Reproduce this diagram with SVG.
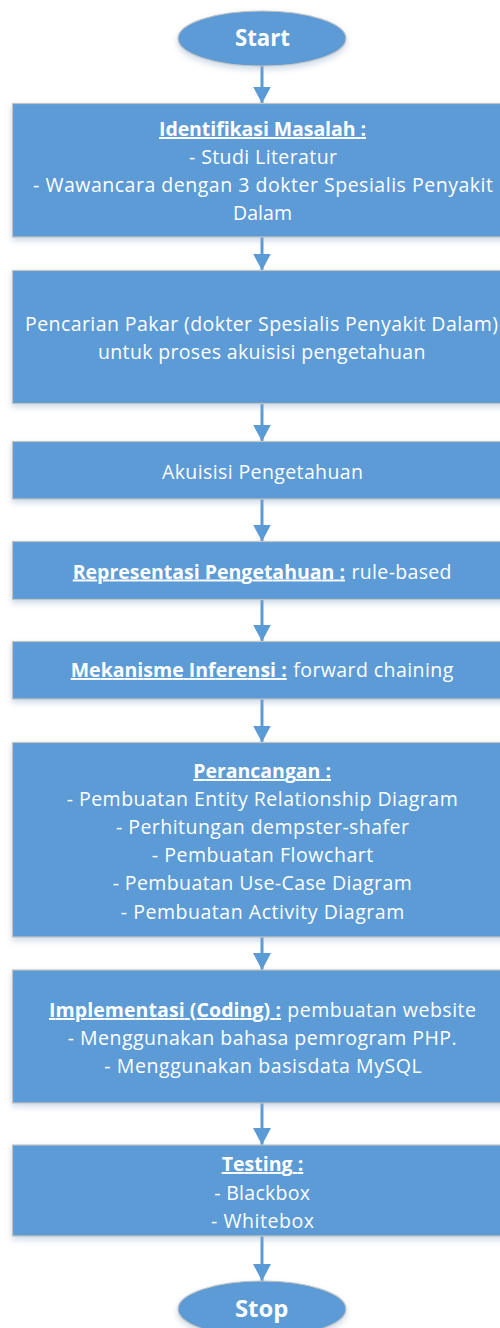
<svg xmlns="http://www.w3.org/2000/svg" width="500" height="1328" viewBox="0 0 500 1328">
<defs>
<filter id="sh" x="-10%" y="-20%" width="120%" height="150%">
<feDropShadow dx="0" dy="3" stdDeviation="3" flood-color="#8fa9c8" flood-opacity="0.45"/>
</filter>
<marker id="ah" markerUnits="userSpaceOnUse" markerWidth="18" markerHeight="18" refX="17" refY="9" orient="auto">
<path d="M0,0 L17,9 L0,18 Z" fill="#5b9bd5"/>
</marker>
<style>
.box{fill:#5b9bd5;stroke:#c3c3c3;stroke-width:1.2;filter:url(#sh)}
.t{font-family:"Open Sans","Liberation Sans",sans-serif;font-size:19.5px;fill:#ffffff}
.b{font-weight:700;text-decoration:underline}
.term{font-family:"Open Sans","Liberation Sans",sans-serif;font-size:23px;font-weight:700;fill:#ffffff}
.c{stroke:#5b9bd5;stroke-width:3;fill:none;marker-end:url(#ah)}
</style>
</defs>
<rect width="500" height="1328" fill="#ffffff"/>
<g id="connectors">
<line class="c" x1="262" y1="66" x2="262" y2="103.5"/>
<line class="c" x1="262" y1="237" x2="262" y2="270.5"/>
<line class="c" x1="262" y1="403.5" x2="262" y2="441.5"/>
<line class="c" x1="262" y1="499" x2="262" y2="541.5"/>
<line class="c" x1="262" y1="599.5" x2="262" y2="641.5"/>
<line class="c" x1="262" y1="699" x2="262" y2="742.5"/>
<line class="c" x1="262" y1="937" x2="262" y2="970"/>
<line class="c" x1="262" y1="1103" x2="262" y2="1145"/>
<line class="c" x1="262" y1="1236" x2="262" y2="1281"/>
</g>
<g id="start">
<ellipse class="box" cx="262" cy="38.5" rx="84" ry="27.5"/>
<text class="term" x="235" y="46" textLength="55" lengthAdjust="spacingAndGlyphs">Start</text>
</g>
<g id="identifikasi">
<rect class="box" x="12.5" y="103.5" width="500" height="133.5"/>
<text class="t b" x="159" y="136" textLength="207" lengthAdjust="spacing">Identifikasi Masalah :</text>
<text class="t" x="189" y="164" textLength="148" lengthAdjust="spacing">- Studi Literatur</text>
<text class="t" x="33" y="192" textLength="460" lengthAdjust="spacing">- Wawancara dengan 3 dokter Spesialis Penyakit</text>
<text class="t" x="233" y="219.5" textLength="59" lengthAdjust="spacing">Dalam</text>
</g>
<g id="pencarian">
<rect class="box" x="12.5" y="270.5" width="500" height="133"/>
<text class="t" x="25" y="331" textLength="473" lengthAdjust="spacing">Pencarian Pakar (dokter Spesialis Penyakit Dalam)</text>
<text class="t" x="98" y="359" textLength="327.5" lengthAdjust="spacing">untuk proses akuisisi pengetahuan</text>
</g>
<g id="akuisisi">
<rect class="box" x="12.5" y="441.5" width="500" height="57.5"/>
<text class="t" x="162" y="478.5" textLength="201" lengthAdjust="spacing">Akuisisi Pengetahuan</text>
</g>
<g id="representasi">
<rect class="box" x="12.5" y="541.5" width="500" height="58"/>
<text class="t b" x="72.7" y="578.5" textLength="272.3" lengthAdjust="spacing">Representasi Pengetahuan :</text>
<text class="t" x="351.5" y="578.5" textLength="100" lengthAdjust="spacing">rule-based</text>
</g>
<g id="inferensi">
<rect class="box" x="12.5" y="641.5" width="500" height="57.5"/>
<text class="t b" x="70.7" y="677" textLength="216" lengthAdjust="spacing">Mekanisme Inferensi :</text>
<text class="t" x="293.3" y="677" textLength="160" lengthAdjust="spacing">forward chaining</text>
</g>
<g id="perancangan">
<rect class="box" x="12.5" y="742.5" width="500" height="194.5"/>
<text class="t b" x="193.3" y="778" textLength="137.7" lengthAdjust="spacing">Perancangan :</text>
<text class="t" x="66.7" y="806" textLength="391" lengthAdjust="spacing">- Pembuatan Entity Relationship Diagram</text>
<text class="t" x="116" y="834" textLength="293" lengthAdjust="spacing">- Perhitungan dempster-shafer</text>
<text class="t" x="151.7" y="862" textLength="221.6" lengthAdjust="spacing">- Pembuatan Flowchart</text>
<text class="t" x="112.7" y="890" textLength="299" lengthAdjust="spacing">- Pembuatan Use-Case Diagram</text>
<text class="t" x="120.7" y="918.7" textLength="283.6" lengthAdjust="spacing">- Pembuatan Activity Diagram</text>
</g>
<g id="implementasi">
<rect class="box" x="12.5" y="970" width="500" height="133"/>
<text class="t b" x="49" y="1017" textLength="232" lengthAdjust="spacing">Implementasi (Coding) :</text>
<text class="t" x="287.3" y="1017" textLength="188.7" lengthAdjust="spacing">pembuatan website</text>
<text class="t" x="67.7" y="1045" textLength="389" lengthAdjust="spacing">- Menggunakan bahasa pemrogram PHP.</text>
<text class="t" x="104.3" y="1073" textLength="317.4" lengthAdjust="spacing">- Menggunakan basisdata MySQL</text>
</g>
<g id="testing">
<rect class="box" x="12.5" y="1145" width="500" height="91"/>
<text class="t b" x="221.7" y="1171" textLength="81.6" lengthAdjust="spacing">Testing :</text>
<text class="t" x="214.3" y="1199.5" textLength="95.7" lengthAdjust="spacing">- Blackbox</text>
<text class="t" x="211" y="1227.5" textLength="103" lengthAdjust="spacing">- Whitebox</text>
</g>
<g id="stop">
<ellipse class="box" cx="262" cy="1309" rx="84" ry="28"/>
<text class="term" x="235" y="1317" textLength="53.3" lengthAdjust="spacingAndGlyphs">Stop</text>
</g>
</svg>
